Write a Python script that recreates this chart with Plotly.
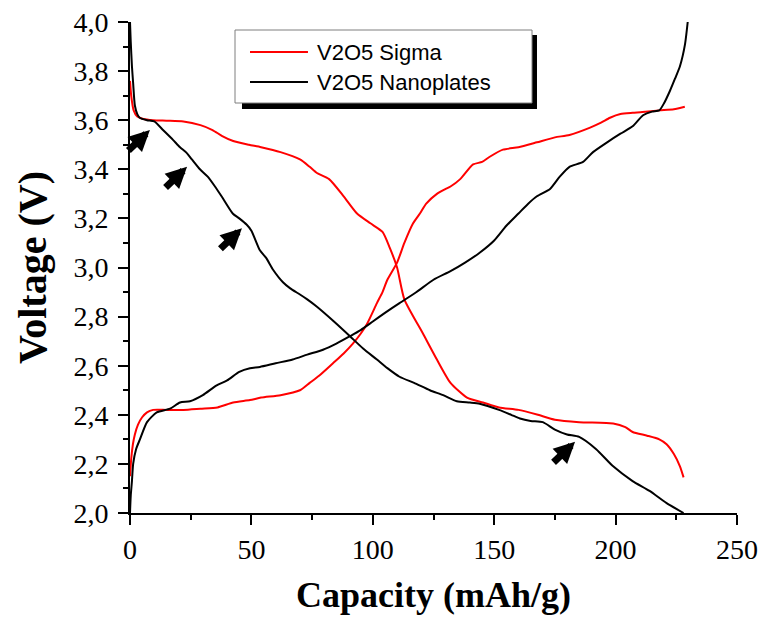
import plotly.graph_objects as go

# Galvanostatic discharge / charge curves (capacity in mAh/g, voltage in V)
series_names = ["V2O5 Sigma", "V2O5 Nanoplates"]
series_colors = ["#ff0000", "#000000"]

sigma_dis_x = [0, 0.5, 1.5, 3, 5.5, 9.5, 15, 22, 29, 34, 38, 42.5, 49, 54, 62, 70, 74, 77, 82, 88,
               93.5, 99, 104, 107, 110, 113, 120.7, 126.4, 132, 138.8, 145.4, 152, 160, 168, 175,
               185, 199, 204, 207, 213, 218, 221, 224, 226.5, 228]
sigma_dis_y = [3.76, 3.70, 3.64, 3.615, 3.605, 3.60, 3.598, 3.595, 3.58, 3.56, 3.535, 3.515, 3.50,
               3.49, 3.47, 3.44, 3.41, 3.385, 3.36, 3.29, 3.22, 3.18, 3.145, 3.08, 3.00, 2.87, 2.73,
               2.625, 2.53, 2.47, 2.45, 2.43, 2.42, 2.40, 2.38, 2.37, 2.365, 2.35, 2.33, 2.315, 2.30,
               2.28, 2.24, 2.19, 2.145]

sigma_chg_x = [0, 0.5, 1.2, 2, 3.3, 5, 7, 9.5, 15, 22, 29, 36, 42.5, 49.4, 54, 62, 70, 74, 78, 83.6,
               88, 91.8, 95, 97.6, 101.7, 104, 106, 110, 113, 116.6, 119.4, 122, 126.4, 130, 132, 136,
               141.3, 145, 148, 153.6, 160, 167.6, 175, 181, 189.5, 194, 197.7, 202, 207, 211, 218,
               224, 228.5]
sigma_chg_y = [2.15, 2.22, 2.28, 2.32, 2.36, 2.39, 2.41, 2.42, 2.42, 2.42, 2.425, 2.43, 2.45, 2.46,
               2.47, 2.48, 2.50, 2.53, 2.56, 2.61, 2.65, 2.69, 2.73, 2.77, 2.855, 2.90, 2.95, 3.02,
               3.10, 3.18, 3.22, 3.26, 3.30, 3.32, 3.33, 3.36, 3.42, 3.43, 3.45, 3.48, 3.49, 3.51,
               3.53, 3.54, 3.57, 3.59, 3.61, 3.625, 3.63, 3.633, 3.64, 3.645, 3.655]

nano_dis_x = [0, 0.3, 0.8, 1.3, 2, 3, 4, 7, 10, 13.6, 17.7, 20.6, 23.5, 25.5, 28.8, 32, 35, 37.7,
              42.3, 45, 48, 50, 53.5, 56, 59, 63, 66, 70, 73, 77, 84, 90.6, 96, 101.7, 106, 111, 117,
              123.5, 129, 134.6, 140, 144, 152, 157, 160.6, 165, 170, 175, 180, 185, 192, 199, 207,
              214, 221, 228]
nano_dis_y = [4.0, 3.92, 3.82, 3.75, 3.66, 3.625, 3.61, 3.60, 3.595, 3.56, 3.52, 3.49, 3.465, 3.44,
              3.40, 3.37, 3.33, 3.29, 3.22, 3.20, 3.175, 3.15, 3.07, 3.04, 2.99, 2.94, 2.915, 2.89,
              2.87, 2.84, 2.78, 2.72, 2.67, 2.625, 2.59, 2.555, 2.53, 2.50, 2.48, 2.455, 2.45, 2.445,
              2.42, 2.40, 2.385, 2.375, 2.37, 2.34, 2.32, 2.31, 2.26, 2.19, 2.13, 2.09, 2.04, 2.0]

nano_chg_x = [0, 0.3, 0.8, 1.3, 2.5, 4.1, 7, 11, 16.5, 20.6, 24.7, 30, 35.7, 40, 45, 49.4, 53.5, 60,
              67, 73, 79.5, 85, 90.6, 95, 100, 105, 111, 118, 125, 132, 138, 144, 150, 155, 160, 164,
              167.6, 173, 177, 181, 186.6, 190.7, 196.5, 202, 207, 211.3, 215, 218, 220, 222.4,
              224.5, 226.5, 228.6, 229.7]
nano_chg_y = [2.0, 2.07, 2.13, 2.2, 2.26, 2.30, 2.37, 2.41, 2.425, 2.45, 2.455, 2.48, 2.52, 2.54,
              2.575, 2.59, 2.595, 2.61, 2.625, 2.645, 2.665, 2.69, 2.72, 2.745, 2.78, 2.815, 2.855,
              2.90, 2.95, 2.985, 3.02, 3.06, 3.11, 3.17, 3.22, 3.26, 3.29, 3.32, 3.37, 3.41, 3.43,
              3.47, 3.51, 3.545, 3.575, 3.62, 3.635, 3.64, 3.67, 3.72, 3.77, 3.82, 3.91, 4.0]

# Plateau features marked with arrows (arrow tip positions)
arrow_x = [8.2, 23.5, 46.1, 183.3]
arrow_y = [3.56, 3.41, 3.16, 2.29]

x_ticks = [0, 50, 100, 150, 200, 250]
y_ticks = [2.0, 2.2, 2.4, 2.6, 2.8, 3.0, 3.2, 3.4, 3.6, 3.8, 4.0]

curves = [
    (sigma_dis_x, sigma_dis_y, 0),
    (sigma_chg_x, sigma_chg_y, 0),
    (nano_dis_x, nano_dis_y, 1),
    (nano_chg_x, nano_chg_y, 1),
]

fig = go.Figure()
for xs, ys, k in curves:
    fig.add_trace(go.Scatter(
        x=xs, y=ys, mode="lines", name=series_names[k], showlegend=False,
        line=dict(color=series_colors[k], width=2, shape="spline", smoothing=0.6),
    ))

serif = "Liberation Serif, Times New Roman, serif"
sans = "Liberation Sans, Arial, sans-serif"

fig.update_layout(
    width=763, height=619,
    margin=dict(l=130, r=26, t=22, b=106),
    paper_bgcolor="white", plot_bgcolor="white",
    separators=",.",
    showlegend=False,
    xaxis=dict(
        range=[0, 250], tickvals=x_ticks, ticks="outside", ticklen=10, tickwidth=2,
        tickcolor="black", showline=True, linewidth=2, linecolor="black",
        showgrid=False, zeroline=False, automargin=False,
        minor=dict(dtick=25, ticks="outside", ticklen=5, tickwidth=2, tickcolor="black", showgrid=False),
        tickfont=dict(family=serif, size=28, color="black"),
        ticklabelstandoff=0,
        title=dict(text="<b>Capacity (mAh/g)</b>", font=dict(family=serif, size=36, color="black"), standoff=18),
    ),
    yaxis=dict(
        range=[2.0, 4.0], tickvals=y_ticks, tickformat=".1f", ticks="outside", ticklen=10, tickwidth=2,
        tickcolor="black", showline=True, linewidth=2, linecolor="black",
        showgrid=False, zeroline=False, automargin=False,
        minor=dict(dtick=0.1, ticks="outside", ticklen=5, tickwidth=2, tickcolor="black", showgrid=False),
        tickfont=dict(family=serif, size=28, color="black"),
        ticklabelstandoff=4,
        title=dict(text="<b>Voltage (V)</b>", font=dict(family=serif, size=40, color="black"), standoff=14),
    ),
)

# Legend panel with drop shadow, drawn in axis-domain coordinates
fig.add_shape(type="rect", xref="x domain", yref="y domain", x0=0.1845, x1=0.6705, y0=0.8228, y1=0.9735,
              fillcolor="black", line=dict(width=0), layer="above")
fig.add_shape(type="rect", xref="x domain", yref="y domain", x0=0.173, x1=0.6623, y0=0.835, y1=0.9837,
              fillcolor="white", line=dict(color="#7f7f7f", width=1), layer="above")
legend_rows = [0.9389, 0.8778]
for k, yy in enumerate(legend_rows):
    fig.add_shape(type="line", xref="x domain", yref="y domain", x0=0.1977, x1=0.2932, y0=yy, y1=yy,
                  line=dict(color=series_colors[k], width=2), layer="above")
    fig.add_annotation(xref="x domain", yref="y domain", x=0.3048, y=yy, text=series_names[k],
                       showarrow=False, xanchor="left", yanchor="middle",
                       font=dict(family=sans, size=22, color="black"))

# Arrows pointing at the discharge plateaus
for ax_, ay_ in zip(arrow_x, arrow_y):
    fig.add_annotation(x=ax_, y=ay_, xref="x", yref="y", ax=-23, ay=22, showarrow=True,
                       arrowhead=2, arrowsize=0.6, arrowwidth=7, arrowcolor="black", text="",
                       standoff=0)

fig.write_html("out.html")
